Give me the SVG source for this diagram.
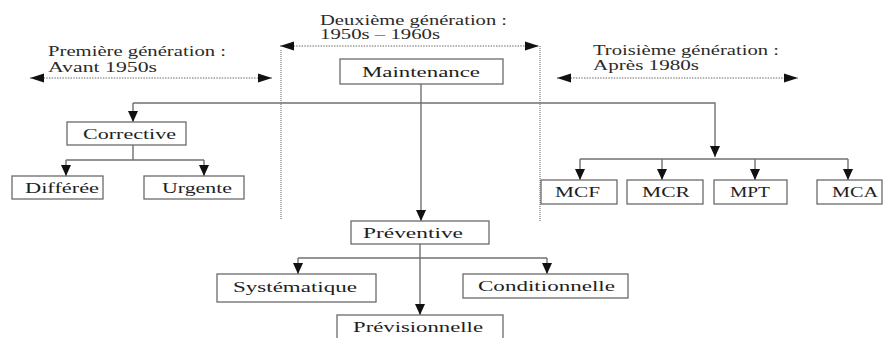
<svg xmlns="http://www.w3.org/2000/svg" width="888" height="338" viewBox="0 0 888 338" font-family="'Liberation Serif', 'Times New Roman', serif">
  <style>
    .box { fill: #ffffff; stroke: #6a6a6a; stroke-width: 1.3; }
    .lbl { font-size: 15px; fill: #1e1e1e; }
    .gen { font-size: 14px; fill: #2a2a2a; }
    .wire { fill: none; stroke: #707070; stroke-width: 1.4; }
    .span { fill: none; stroke: #6a6a6a; stroke-width: 1.2; stroke-dasharray: 1.5 1.2; }
    .era { fill: none; stroke: #9a9a9a; stroke-width: 1.6; stroke-dasharray: 1 1; }
  </style>
  <defs>
    <marker id="head" markerUnits="userSpaceOnUse" markerWidth="14" markerHeight="14" viewBox="0 0 14 14" refX="12" refY="7" orient="auto">
      <path d="M1,2 L12,7 L1,12 Z" fill="#111"/>
    </marker>
    <marker id="spanHead" markerUnits="userSpaceOnUse" markerWidth="16" markerHeight="12" viewBox="0 0 16 12" refX="15" refY="6" orient="auto-start-reverse">
      <path d="M1,1.5 L15,6 L1,10.5 Z" fill="#111"/>
    </marker>
  </defs>

  <!-- period labels and spans -->
  <g id="era-1">
    <text class="gen" x="48" y="56" textLength="178" lengthAdjust="spacingAndGlyphs">Première génération :</text>
    <text class="gen" x="48" y="72" textLength="109" lengthAdjust="spacingAndGlyphs">Avant 1950s</text>
    <line class="span" x1="30" y1="78" x2="272" y2="78" marker-start="url(#spanHead)" marker-end="url(#spanHead)"/>
  </g>
  <g id="era-2">
    <text class="gen" x="320" y="25" textLength="187" lengthAdjust="spacingAndGlyphs">Deuxième génération :</text>
    <text class="gen" x="320" y="39" textLength="120" lengthAdjust="spacingAndGlyphs">1950s – 1960s</text>
    <line class="span" x1="280" y1="46" x2="539" y2="46" marker-start="url(#spanHead)" marker-end="url(#spanHead)"/>
    <line class="era" x1="281" y1="50" x2="281" y2="220"/>
    <line class="era" x1="540" y1="46" x2="540" y2="222"/>
  </g>
  <g id="era-3">
    <text class="gen" x="593" y="55" textLength="186" lengthAdjust="spacingAndGlyphs">Troisième génération :</text>
    <text class="gen" x="593" y="70" textLength="106" lengthAdjust="spacingAndGlyphs">Après 1980s</text>
    <line class="span" x1="557" y1="78" x2="798" y2="78" marker-start="url(#spanHead)" marker-end="url(#spanHead)"/>
  </g>

  <!-- connectors -->
  <g id="connectors">
    <line class="wire" x1="421" y1="84" x2="421" y2="221" marker-end="url(#head)"/>
    <polyline class="wire" points="133,103 715,103 715,157" marker-end="url(#head)"/>
    <line class="wire" x1="133" y1="103" x2="133" y2="122" marker-end="url(#head)"/>
    <!-- corrective branch -->
    <line class="wire" x1="133" y1="145" x2="133" y2="160"/>
    <line class="wire" x1="66" y1="160" x2="204" y2="160"/>
    <line class="wire" x1="66" y1="160" x2="66" y2="176" marker-end="url(#head)"/>
    <line class="wire" x1="204" y1="160" x2="204" y2="176" marker-end="url(#head)"/>
    <!-- third generation branch -->
    <line class="wire" x1="580" y1="159" x2="848" y2="159"/>
    <line class="wire" x1="580" y1="159" x2="580" y2="180" marker-end="url(#head)"/>
    <line class="wire" x1="662" y1="159" x2="662" y2="180" marker-end="url(#head)"/>
    <line class="wire" x1="755" y1="159" x2="755" y2="180" marker-end="url(#head)"/>
    <line class="wire" x1="848" y1="159" x2="848" y2="180" marker-end="url(#head)"/>
    <!-- preventive branch -->
    <line class="wire" x1="420" y1="244" x2="420" y2="315" marker-end="url(#head)"/>
    <line class="wire" x1="298" y1="258" x2="547" y2="258"/>
    <line class="wire" x1="298" y1="258" x2="298" y2="274" marker-end="url(#head)"/>
    <line class="wire" x1="547" y1="258" x2="547" y2="274" marker-end="url(#head)"/>
  </g>

  <!-- nodes -->
  <g id="maintenance">
    <rect class="box" x="340" y="59" width="163" height="25"/>
    <text class="lbl" x="362" y="77" textLength="118" lengthAdjust="spacingAndGlyphs">Maintenance</text>
  </g>
  <g id="corrective">
    <rect class="box" x="67" y="122" width="119" height="23"/>
    <text class="lbl" x="83" y="139" textLength="93" lengthAdjust="spacingAndGlyphs">Corrective</text>
  </g>
  <g id="differee">
    <rect class="box" x="12" y="176" width="91" height="23"/>
    <text class="lbl" x="25" y="193" textLength="74" lengthAdjust="spacingAndGlyphs">Différée</text>
  </g>
  <g id="urgente">
    <rect class="box" x="144" y="176" width="100" height="23"/>
    <text class="lbl" x="162" y="193" textLength="70" lengthAdjust="spacingAndGlyphs">Urgente</text>
  </g>
  <g id="mcf">
    <rect class="box" x="541" y="180" width="76" height="24"/>
    <text class="lbl" x="555" y="197" textLength="45" lengthAdjust="spacingAndGlyphs">MCF</text>
  </g>
  <g id="mcr">
    <rect class="box" x="627" y="180" width="76" height="24"/>
    <text class="lbl" x="642" y="197" textLength="48" lengthAdjust="spacingAndGlyphs">MCR</text>
  </g>
  <g id="mpt">
    <rect class="box" x="714" y="180" width="73" height="24"/>
    <text class="lbl" x="730" y="197" textLength="40" lengthAdjust="spacingAndGlyphs">MPT</text>
  </g>
  <g id="mca">
    <rect class="box" x="817" y="180" width="65" height="24"/>
    <text class="lbl" x="832" y="197" textLength="46" lengthAdjust="spacingAndGlyphs">MCA</text>
  </g>
  <g id="preventive">
    <rect class="box" x="351" y="221" width="138" height="23"/>
    <text class="lbl" x="363" y="238" textLength="100" lengthAdjust="spacingAndGlyphs">Préventive</text>
  </g>
  <g id="systematique">
    <rect class="box" x="217" y="274" width="159" height="28"/>
    <text class="lbl" x="233" y="292" textLength="124" lengthAdjust="spacingAndGlyphs">Systématique</text>
  </g>
  <g id="conditionnelle">
    <rect class="box" x="463" y="274" width="165" height="24"/>
    <text class="lbl" x="478" y="291" textLength="137" lengthAdjust="spacingAndGlyphs">Conditionnelle</text>
  </g>
  <g id="previsionnelle">
    <rect class="box" x="337" y="315" width="166" height="30"/>
    <text class="lbl" x="353" y="332" textLength="130" lengthAdjust="spacingAndGlyphs">Prévisionnelle</text>
  </g>
</svg>
